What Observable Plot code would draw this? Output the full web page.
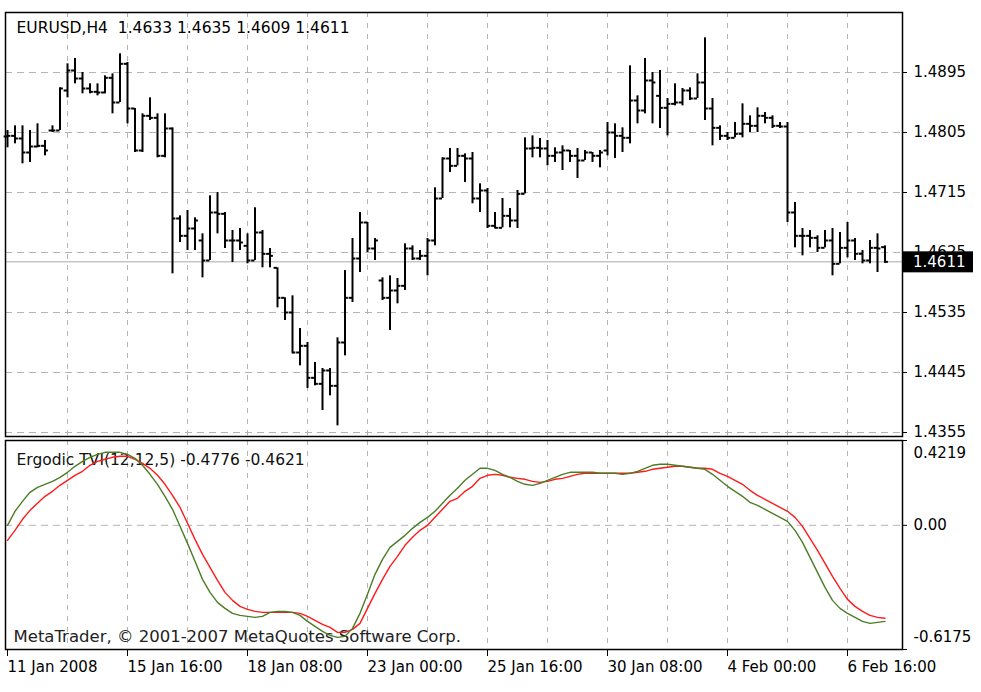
<!DOCTYPE html>
<html><head><meta charset="utf-8">
<script src="https://cdn.jsdelivr.net/npm/d3@7"></script>
<script src="https://cdn.jsdelivr.net/npm/@observablehq/plot@0.6"></script>
<style>
html,body{margin:0;padding:0;background:#fff;}
#chart{position:relative;width:981px;height:692px;background:#fff;overflow:hidden;}
#chart svg{position:absolute;left:0;}
#chart svg text{white-space:pre;}
</style></head><body><div id="chart"></div>
<script>
// ---- data (EURUSD H4 bars) ----
const opens=[1.4799,1.4800,1.4796,1.4775,1.4784,1.4785,1.4808,1.4808,1.4868,1.4898,
1.4886,1.4871,1.4866,1.4865,1.4887,1.4850,1.4908,1.4841,1.4778,1.4830,
1.4827,1.4770,1.4811,1.4676,1.4650,1.4661,1.4643,1.4613,1.4685,1.4683,
1.4643,1.4643,1.4635,1.4613,1.4655,1.4623,1.4602,1.4557,1.4535,1.4475,
1.4485,1.4437,1.4428,1.4448,1.4425,1.4490,1.4557,1.4616,1.4670,1.4631,
1.4583,1.4557,1.4568,1.4575,1.4631,1.4616,1.4620,1.4643,1.4706,1.4766,
1.4755,1.4770,1.4766,1.4706,1.4718,1.4665,1.4662,1.4680,1.4673,1.4713,
1.4781,1.4782,1.4781,1.4770,1.4775,1.4778,1.4770,1.4763,1.4775,1.4770,
1.4778,1.4805,1.4800,1.4797,1.4853,1.4838,1.4883,1.4860,1.4842,1.4848,
1.4850,1.4868,1.4856,1.4880,1.4841,1.4812,1.4800,1.4797,1.4803,1.4818,
1.4815,1.4830,1.4827,1.4815,1.4814,1.4685,1.4650,1.4650,1.4647,1.4632,
1.4643,1.4608,1.4632,1.4643,1.4623,1.4613,1.4632,1.4633];
const highs=[1.4808,1.4815,1.4815,1.4808,1.4818,1.4793,1.4815,1.4872,1.4908,1.4916,
1.4895,1.4878,1.4878,1.4890,1.4893,1.4923,1.4910,1.4841,1.4833,1.4857,
1.4833,1.4833,1.4812,1.4680,1.4688,1.4677,1.4653,1.4710,1.4715,1.4685,
1.4658,1.4661,1.4653,1.4692,1.4658,1.4631,1.4602,1.4557,1.4560,1.4511,
1.4490,1.4460,1.4451,1.4451,1.4497,1.4598,1.4646,1.4685,1.4670,1.4646,
1.4587,1.4590,1.4586,1.4638,1.4635,1.4628,1.4646,1.4722,1.4767,1.4781,
1.4781,1.4773,1.4775,1.4728,1.4721,1.4685,1.4706,1.4691,1.4718,1.4797,
1.4800,1.4796,1.4793,1.4782,1.4785,1.4778,1.4781,1.4778,1.4775,1.4778,
1.4820,1.4818,1.4812,1.4905,1.4860,1.4916,1.4895,1.4898,1.4856,1.4878,
1.4871,1.4872,1.4893,1.4947,1.4856,1.4815,1.4805,1.4820,1.4848,1.4830,
1.4842,1.4835,1.4830,1.4820,1.4820,1.4700,1.4661,1.4658,1.4650,1.4658,
1.4661,1.4655,1.4670,1.4646,1.4628,1.4643,1.4653,1.4635];
const lows=[1.4782,1.4788,1.4758,1.4760,1.4782,1.4770,1.4805,1.4808,1.4857,1.4878,
1.4863,1.4863,1.4860,1.4863,1.4833,1.4850,1.4818,1.4775,1.4775,1.4823,
1.4767,1.4767,1.4593,1.4640,1.4628,1.4628,1.4587,1.4613,1.4653,1.4631,
1.4610,1.4628,1.4608,1.4613,1.4602,1.4602,1.4542,1.4523,1.4473,1.4455,
1.4421,1.4425,1.4388,1.4410,1.4365,1.4470,1.4550,1.4595,1.4625,1.4613,
1.4553,1.4508,1.4548,1.4568,1.4613,1.4613,1.4590,1.4635,1.4706,1.4745,
1.4755,1.4730,1.4698,1.4685,1.4661,1.4661,1.4662,1.4662,1.4661,1.4713,
1.4767,1.4767,1.4755,1.4760,1.4748,1.4760,1.4736,1.4763,1.4760,1.4752,
1.4770,1.4766,1.4775,1.4788,1.4818,1.4833,1.4818,1.4811,1.4800,1.4845,
1.4845,1.4853,1.4856,1.4823,1.4785,1.4793,1.4793,1.4797,1.4797,1.4805,
1.4805,1.4818,1.4811,1.4811,1.4670,1.4632,1.4620,1.4632,1.4625,1.4632,
1.4590,1.4608,1.4617,1.4613,1.4608,1.4608,1.4595,1.4609];
const closes=[1.4800,1.4796,1.4775,1.4784,1.4785,1.4778,1.4808,1.4871,1.4898,1.4886,
1.4871,1.4866,1.4865,1.4887,1.4850,1.4908,1.4841,1.4778,1.4830,1.4827,
1.4770,1.4811,1.4676,1.4650,1.4661,1.4673,1.4613,1.4685,1.4683,1.4643,
1.4643,1.4640,1.4613,1.4655,1.4623,1.4620,1.4557,1.4535,1.4475,1.4485,
1.4437,1.4428,1.4448,1.4425,1.4490,1.4557,1.4616,1.4670,1.4631,1.4643,
1.4557,1.4568,1.4575,1.4631,1.4616,1.4620,1.4643,1.4706,1.4766,1.4755,
1.4770,1.4766,1.4706,1.4718,1.4665,1.4662,1.4680,1.4673,1.4713,1.4781,
1.4782,1.4781,1.4770,1.4775,1.4778,1.4770,1.4763,1.4775,1.4770,1.4775,
1.4805,1.4800,1.4797,1.4853,1.4838,1.4883,1.4880,1.4842,1.4848,1.4850,
1.4868,1.4856,1.4880,1.4841,1.4812,1.4800,1.4797,1.4803,1.4818,1.4815,
1.4830,1.4827,1.4815,1.4814,1.4685,1.4650,1.4650,1.4647,1.4632,1.4643,
1.4608,1.4632,1.4643,1.4623,1.4613,1.4632,1.4631,1.4611];
// Ergodic TVI(12,12,5): main (green) and signal (red)
const tviMain=[0.0000,0.0697,0.1194,0.1642,0.1891,0.2040,0.2189,0.2388,0.2637,0.2935,
0.3184,0.3383,0.3532,0.3632,0.3632,0.3632,0.3532,0.3333,0.2985,0.2537,
0.2040,0.1443,0.0796,-0.0050,-0.0896,-0.1791,-0.2687,-0.3333,-0.3831,-0.4129,
-0.4378,-0.4478,-0.4527,-0.4577,-0.4527,-0.4328,-0.4279,-0.4279,-0.4328,-0.4478,
-0.4776,-0.5025,-0.5274,-0.5473,-0.5572,-0.5522,-0.5124,-0.4378,-0.3433,-0.2438,
-0.1692,-0.1095,-0.0796,-0.0498,-0.0149,0.0149,0.0398,0.0697,0.1095,0.1493,
0.1841,0.2239,0.2537,0.2836,0.2836,0.2736,0.2537,0.2388,0.2189,0.2040,
0.1990,0.2090,0.2239,0.2388,0.2537,0.2637,0.2637,0.2637,0.2637,0.2587,
0.2587,0.2587,0.2537,0.2587,0.2687,0.2836,0.2985,0.3035,0.3035,0.2985,
0.2935,0.2886,0.2836,0.2786,0.2537,0.2239,0.1940,0.1692,0.1443,0.1144,
0.0995,0.0796,0.0597,0.0398,0.0199,-0.0249,-0.0846,-0.1592,-0.2338,-0.3085,
-0.3731,-0.4129,-0.4378,-0.4577,-0.4776,-0.4876,-0.4826,-0.4776];
const tviSignal=[-0.0746,-0.0249,0.0299,0.0746,0.1095,0.1443,0.1692,0.1990,0.2239,0.2488,
0.2687,0.2985,0.3184,0.3284,0.3383,0.3433,0.3433,0.3284,0.3085,0.2836,
0.2488,0.2040,0.1493,0.0896,0.0100,-0.0697,-0.1443,-0.2090,-0.2736,-0.3333,
-0.3731,-0.4030,-0.4179,-0.4279,-0.4328,-0.4328,-0.4328,-0.4328,-0.4328,-0.4378,
-0.4527,-0.4726,-0.4925,-0.5075,-0.5323,-0.5323,-0.5174,-0.4876,-0.4129,-0.3383,
-0.2687,-0.2040,-0.1542,-0.0995,-0.0597,-0.0249,0.0000,0.0398,0.0796,0.1194,
0.1343,0.1692,0.1940,0.2338,0.2488,0.2537,0.2488,0.2388,0.2338,0.2289,
0.2189,0.2139,0.2189,0.2289,0.2338,0.2438,0.2537,0.2587,0.2587,0.2587,
0.2587,0.2587,0.2587,0.2587,0.2637,0.2687,0.2786,0.2836,0.2886,0.2935,
0.2935,0.2886,0.2836,0.2836,0.2786,0.2587,0.2438,0.2239,0.2040,0.1741,
0.1493,0.1294,0.1095,0.0896,0.0697,0.0398,-0.0050,-0.0647,-0.1244,-0.1891,
-0.2537,-0.3134,-0.3682,-0.4030,-0.4279,-0.4478,-0.4577,-0.4621];

const symbolTitle="EURUSD,H4";
const tviTitle="Ergodic TVI(12,12,5)";
const copyright="MetaTrader, \u00A9 2001-2007 MetaQuotes Software Corp.";
const timeTickBars=[0,16,32,48,64,80,96,112];
const timeTickLabels=["11 Jan 2008","15 Jan 16:00","18 Jan 08:00","23 Jan 00:00","25 Jan 16:00","30 Jan 08:00","4 Feb 00:00","6 Feb 16:00"];
const gridBars=[8,16,24,32,40,48,56,64,72,80,88,96,104,112];
const priceTicks=[1.4895,1.4805,1.4715,1.4625,1.4535,1.4445,1.4355];
const priceDomain=[1.4349,1.4985];
const tviTicks=[0.4219,0,-0.6175];
const tviTickLabels=["0.4219","0.00","-0.6175"];
const tviDomain=[-0.6175,0.4219];
const barDomain=[-0.2667,119.333];

(function(){
  const bars=opens.map((o,i)=>({i,open:o,high:highs[i],low:lows[i],close:closes[i]}));
  const tvi=tviMain.map((v,i)=>({i,main:v,signal:tviSignal[i]}));
  const last=bars[bars.length-1];
  const f4=d=>d.toFixed(4);
  const headline=`${symbolTitle}  ${f4(last.open)} ${f4(last.high)} ${f4(last.low)} ${f4(last.close)}`;
  const tviHead=`${tviTitle} ${f4(tviMain[tviMain.length-1])} ${f4(tviSignal[tviSignal.length-1])}`;
  const font="'DejaVu Sans', Tahoma, sans-serif";
  const style={fontFamily:font,fontSize:"15px",color:"#000",background:"transparent",overflow:"visible"};
  const gridColor="#b4b4b4";
  const W=981, mL=5, mR=79;

  const pricePlot=Plot.plot({
    width:W,height:440,marginTop:12,marginBottom:4,marginLeft:mL,marginRight:mR,
    x:{domain:barDomain,axis:null},
    y:{domain:priceDomain,axis:null},
    style,
    marks:[
      Plot.ruleY(priceTicks,{stroke:gridColor,strokeDasharray:"7,5"}),
      Plot.ruleX(gridBars,{stroke:gridColor,strokeDasharray:"5,6"}),
      Plot.ruleY([last.close],{stroke:"#c6c6c6",strokeWidth:1.5}),
      Plot.text([headline],{text:d=>d,frameAnchor:"top-left",dx:11,dy:16,textAnchor:"start",lineAnchor:"middle",fill:"#000",fontSize:15.5}),
      Plot.ruleX(bars,{x:"i",y1:"low",y2:"high",stroke:"#000",strokeWidth:2}),
      Plot.ruleY(bars,{y:"open",x1:d=>d.i-0.45,x2:"i",stroke:"#000",strokeWidth:2}),
      Plot.ruleY(bars,{y:"close",x1:"i",x2:d=>d.i+0.45,stroke:"#000",strokeWidth:2}),
      Plot.frame({stroke:"#000",strokeWidth:1.5}),
      Plot.axisY(priceTicks,{anchor:"right",label:null,tickSize:4,tickPadding:7,tickFormat:f4,stroke:"#000"})
    ]
  });
  pricePlot.style.top="0px";
  document.getElementById("chart").appendChild(pricePlot);
  // last-price marker on the price scale
  const ly=pricePlot.scale("y").apply(last.close);
  const fr=W-mR;
  const sel=d3.select(pricePlot);
  sel.append("rect").attr("x",fr+1).attr("y",ly-10).attr("width",70).attr("height",21).attr("fill","#000");
  sel.append("text").attr("x",fr+11).attr("y",ly).attr("dy","0.36em").attr("fill","#fff")
    .attr("text-anchor","start")
    .style("font-family",font).style("font-size","15px").text(f4(last.close));

  const tviPlot=Plot.plot({
    width:W,height:252,marginTop:0,marginBottom:43,marginLeft:mL,marginRight:mR,
    x:{domain:barDomain,axis:null},
    y:{domain:tviDomain,axis:null},
    style,
    marks:[
      Plot.ruleY([0],{stroke:gridColor,strokeDasharray:"7,5"}),
      Plot.ruleX(gridBars,{stroke:gridColor,strokeDasharray:"5,6"}),
      Plot.text([tviHead],{text:d=>d,frameAnchor:"top-left",dx:11,dy:20,textAnchor:"start",lineAnchor:"middle",fill:"#111",fontSize:15.5}),
      Plot.text([copyright],{text:d=>d,frameAnchor:"bottom-left",dx:8,dy:-13,textAnchor:"start",lineAnchor:"middle",fill:"#222",fontSize:16.5}),
      Plot.line(tvi,{x:"i",y:"signal",stroke:"#ff1a1a",strokeWidth:1.4}),
      Plot.line(tvi,{x:"i",y:"main",stroke:"#4c7d26",strokeWidth:1.4}),
      Plot.frame({stroke:"#000",strokeWidth:1.5}),
      Plot.axisY(tviTicks,{anchor:"right",label:null,tickSize:4,tickFormat:()=>"",stroke:"#000"}),
      Plot.text([tviTicks[0]],{y:d=>d,text:()=>tviTickLabels[0],frameAnchor:"right",dx:11,dy:13,textAnchor:"start",lineAnchor:"middle",fill:"#000"}),
      Plot.text([tviTicks[1]],{y:d=>d,text:()=>tviTickLabels[1],frameAnchor:"right",dx:11,dy:0,textAnchor:"start",lineAnchor:"middle",fill:"#000"}),
      Plot.text([tviTicks[2]],{y:d=>d,text:()=>tviTickLabels[2],frameAnchor:"right",dx:11,dy:-12,textAnchor:"start",lineAnchor:"middle",fill:"#000"}),
      Plot.axisX(timeTickBars,{anchor:"bottom",label:null,tickSize:7,tickPadding:5,textAnchor:"start",
        tickFormat:d=>timeTickLabels[timeTickBars.indexOf(d)],stroke:"#000",fill:"#000"})
    ]
  });
  tviPlot.style.top="440px";
  document.getElementById("chart").appendChild(tviPlot);
})();
</script></body></html>
